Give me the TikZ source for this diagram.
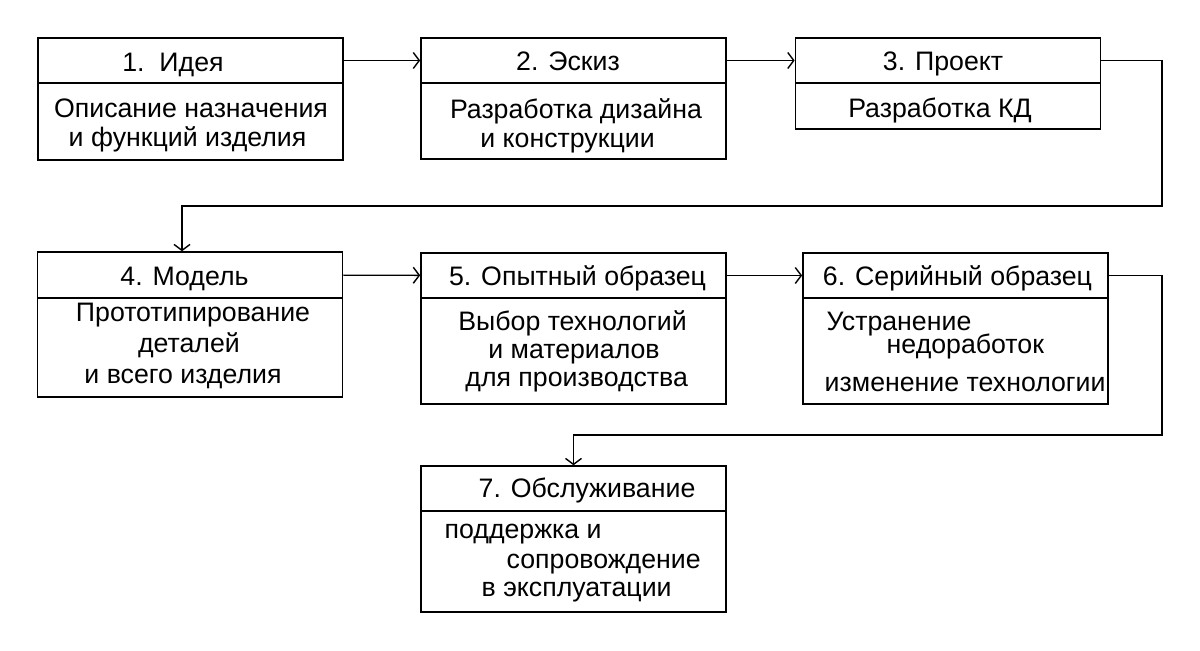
\documentclass[tikz,border=0pt]{standalone}
\usepackage{fontspec}
\setmainfont{Liberation Sans}
\usetikzlibrary{arrows.meta}

\begin{document}
\begin{tikzpicture}[x=0.025cm, y=-0.025cm, >={Straight Barb[length=1.5mm,width=4mm]}, line width=1pt,
  box/.style={draw, minimum width=7.63cm, inner sep=0pt},
  txt/.style={inner sep=0pt, anchor=base, font=\fontsize{19}{22}\selectfont},
  txtl/.style={txt, anchor=base west}]

\useasboundingbox (0,0) rectangle (1200,650);

% first row
\node[box, minimum height=1.125cm] (h1) at (190.5, 60.5) {};
\node[box, minimum height=1.925cm] (b1) at (190.5, 121.5) {};
\node[box, minimum height=1.125cm] (h2) at (573.5, 60.5) {};
\node[box, minimum height=1.9cm] (b2) at (573.5, 121) {};
\node[box, minimum height=1.125cm] (h3) at (948, 60.5) {};
\node[box, minimum height=1.15cm] (b3) at (948, 106) {};

\node[txt] (t1) at (173, 71) {1.\ \ Идея};
\node[txt] (d1a) at (191, 117.3) {Описание назначения};
\node[txt] (d1b) at (187.5, 146.7) {и функций изделия};
\node[txt] (t2) at (568, 70.7) {2. Эскиз};
\node[txt] (d2a) at (576, 118) {Разработка дизайна};
\node[txt] (d2b) at (567.5, 147) {и конструкции};
\node[txt] (t3) at (943, 70.7) {3. Проект};
\node[txt] (d3a) at (940, 117) {Разработка КД};

% second row
\node[box, minimum height=1.15cm] (h4) at (190, 275) {};
\node[box, minimum height=2.475cm] (b4) at (190, 347.5) {};
\node[box, minimum height=1.125cm] (h5) at (573.5, 275.5) {};
\node[box, minimum height=2.65cm] (b5) at (573.5, 351) {};
\node[box, minimum height=1.125cm] (h6) at (955.5, 275.5) {};
\node[box, minimum height=2.65cm] (b6) at (955.5, 351) {};

\node[txt] (t4) at (184.5, 285) {4. Модель};
\node[txt] (d4a) at (193, 321.7) {Прототипирование};
\node[txt] (d4b) at (189, 352.7) {деталей};
\node[txt] (d4c) at (183, 383.3) {и всего изделия};
\node[txt] (t5) at (577.5, 285) {5. Опытный образец};
\node[txt] (d5a) at (572.5, 330.7) {Выбор технологий};
\node[txt] (d5b) at (574, 358.3) {и материалов};
\node[txt] (d5c) at (576.7, 386.7) {для производства};
\node[txt] (t6) at (957.5, 285) {6. Серийный образец};
\node[txtl] (d6a) at (826, 330.7) {Устранение};
\node[txtl] (d6b) at (886, 353) {недоработок};
\node[txtl] (d6c) at (824, 391.7) {изменение технологии};

% third row
\node[box, minimum height=1.125cm] (h7) at (573.5, 488.5) {};
\node[box, minimum height=2.525cm] (b7) at (573.5, 561.5) {};

\node[txt] (t7) at (587, 497) {7. Обслуживание};
\node[txtl] (d7a) at (444, 538) {поддержка и};
\node[txtl] (d7b) at (506, 568) {сопровождение};
\node[txtl] (d7c) at (481, 596.7) {в эксплуатации};

% connectors
\coordinate (turn3) at (1162, 206);
\coordinate (drop4) at (182, 206);
\coordinate (turn6) at (1162, 435);

\draw[->] (h1) -- (h2);
\draw[->] (h2) -- (h3);
\draw[->] (h3.east) -| (turn3) -- (drop4) -- (drop4 |- h4.north);
\draw[->] (h4) -- (h5);
\draw[->] (h5) -- (h6);
\draw[->] (h6.east) -| (turn6) -- (h7.north |- turn6) -- (h7.north);

\end{tikzpicture}
\end{document}
